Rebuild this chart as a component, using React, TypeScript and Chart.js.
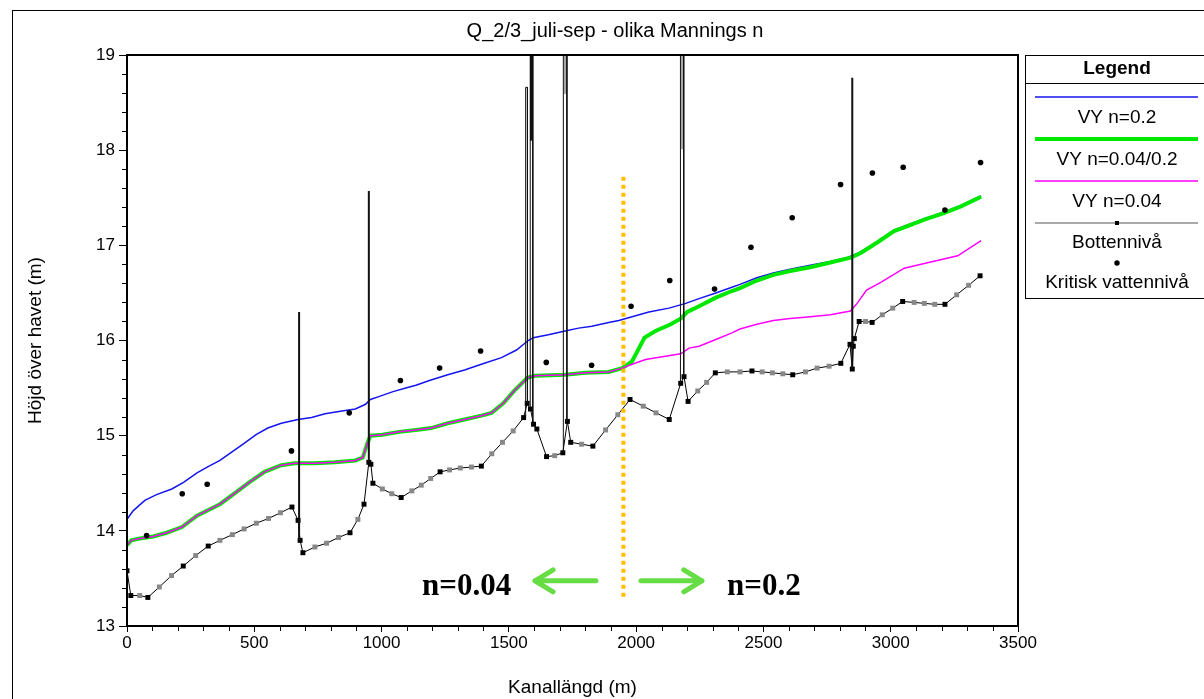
import React, { useEffect, useRef } from "react";
import { Chart, registerables } from "chart.js";

Chart.register(...registerables);

const FONT = "'Liberation Sans', Arial, Helvetica, sans-serif";
const SERIF = "'Liberation Serif', 'Times New Roman', serif";

// ---------- texts ----------
const chartTitle = "Q_2/3_juli-sep - olika Mannings n";
const xTitle = "Kanallängd (m)";
const yTitle = "Höjd över havet (m)";
const legendTitle = "Legend";
const seriesNames = ["VY n=0.2", "VY n=0.04/0.2", "VY n=0.04", "Bottennivå", "Kritisk vattennivå"];
const zoneLabels = ["n=0.04", "n=0.2"];

// ---------- axes ----------
const xRange = [0, 3500];
const yRange = [13, 19];
const xMajorStep = 500;
const xMinorStep = 100;
const yMajorStep = 1;
const yMinorStep = 0.2;

// ---------- VY n=0.2 ----------
const blueDist = [0, 24, 70, 116, 176, 222, 275, 315, 365, 407, 460, 507, 553, 606, 672, 725, 778, 844, 897, 937, 956, 989, 1042, 1095, 1135, 1188, 1260, 1326, 1392, 1471, 1530, 1576, 1596, 1655, 1721, 1774, 1826, 1892, 1932, 1984, 2050, 2129, 2195, 2247, 2313, 2376, 2408, 2474, 2539, 2605, 2684, 2763, 2829, 2882, 2947, 3013, 3053, 3132, 3211, 3276, 3355];
const blueLevel = [14.12, 14.21, 14.32, 14.38, 14.44, 14.51, 14.61, 14.67, 14.74, 14.82, 14.92, 15.01, 15.08, 15.13, 15.17, 15.19, 15.23, 15.26, 15.28, 15.33, 15.38, 15.41, 15.46, 15.50, 15.53, 15.58, 15.64, 15.69, 15.75, 15.82, 15.90, 16.00, 16.03, 16.06, 16.10, 16.13, 16.15, 16.19, 16.21, 16.25, 16.30, 16.34, 16.39, 16.44, 16.50, 16.56, 16.59, 16.66, 16.71, 16.75, 16.79, 16.83, 16.87, 16.93, 17.04, 17.16, 17.20, 17.28, 17.35, 17.42, 17.52];

// ---------- VY n=0.04/0.2 ----------
const mixedDist = [0, 17, 50, 103, 156, 216, 275, 365, 421, 480, 540, 606, 659, 738, 817, 897, 926, 943, 956, 1003, 1069, 1135, 1195, 1260, 1326, 1392, 1432, 1478, 1524, 1574, 1603, 1721, 1800, 1892, 1945, 1984, 2033, 2076, 2136, 2175, 2201, 2247, 2313, 2376, 2408, 2474, 2539, 2605, 2684, 2763, 2842, 2882, 2947, 3013, 3053, 3132, 3211, 3276, 3355];
const mixedLevel = [13.85, 13.90, 13.92, 13.94, 13.98, 14.04, 14.16, 14.28, 14.39, 14.51, 14.62, 14.69, 14.71, 14.71, 14.72, 14.74, 14.77, 14.91, 15.00, 15.01, 15.04, 15.06, 15.08, 15.13, 15.17, 15.21, 15.24, 15.34, 15.48, 15.61, 15.63, 15.64, 15.66, 15.67, 15.71, 15.78, 16.03, 16.10, 16.17, 16.23, 16.30, 16.36, 16.45, 16.52, 16.55, 16.63, 16.69, 16.73, 16.77, 16.82, 16.87, 16.92, 17.03, 17.15, 17.19, 17.27, 17.34, 17.41, 17.51];

// ---------- VY n=0.04 ----------
const lowDist = [0, 17, 50, 103, 156, 216, 275, 365, 421, 480, 540, 606, 659, 738, 817, 897, 926, 943, 956, 1003, 1069, 1135, 1195, 1260, 1326, 1392, 1432, 1478, 1524, 1574, 1603, 1721, 1800, 1892, 1945, 1984, 2037, 2103, 2175, 2208, 2247, 2313, 2376, 2408, 2474, 2539, 2605, 2684, 2763, 2842, 2868, 2905, 2961, 3053, 3132, 3263, 3355];
const lowLevel = [13.85, 13.90, 13.92, 13.94, 13.98, 14.04, 14.16, 14.28, 14.39, 14.51, 14.62, 14.69, 14.71, 14.71, 14.72, 14.74, 14.77, 14.91, 15.00, 15.01, 15.04, 15.06, 15.08, 15.13, 15.17, 15.21, 15.24, 15.34, 15.48, 15.61, 15.63, 15.64, 15.66, 15.67, 15.71, 15.75, 15.80, 15.83, 15.86, 15.92, 15.94, 16.01, 16.08, 16.12, 16.17, 16.21, 16.23, 16.25, 16.27, 16.31, 16.39, 16.53, 16.61, 16.76, 16.81, 16.89, 17.05];

// ---------- Bottennivå ----------
const bedDist = [0, 15, 50, 82, 127, 175, 221, 270, 319, 365, 414, 460, 508, 556, 603, 648, 672, 680, 691, 738, 784, 831, 876, 907, 931, 950, 958, 966, 1003, 1040, 1077, 1119, 1156, 1193, 1230, 1267, 1309, 1353, 1392, 1433, 1475, 1517, 1558, 1572, 1585, 1597, 1610, 1648, 1680, 1712, 1730, 1743, 1786, 1830, 1880, 1928, 1976, 2028, 2078, 2130, 2175, 2188, 2204, 2242, 2277, 2311, 2358, 2408, 2455, 2495, 2535, 2576, 2615, 2665, 2711, 2758, 2804, 2840, 2849, 2853, 2857, 2876, 2901, 2927, 2967, 3008, 3047, 3092, 3132, 3173, 3213, 3259, 3306, 3351];
const bedLevel = [13.58, 13.32, 13.32, 13.30, 13.41, 13.53, 13.63, 13.74, 13.84, 13.90, 13.96, 14.02, 14.08, 14.13, 14.19, 14.25, 14.11, 13.90, 13.77, 13.83, 13.87, 13.93, 13.98, 14.12, 14.28, 14.72, 14.70, 14.50, 14.44, 14.39, 14.35, 14.42, 14.48, 14.55, 14.62, 14.64, 14.66, 14.67, 14.68, 14.81, 14.93, 15.05, 15.19, 15.34, 15.28, 15.12, 15.07, 14.78, 14.79, 14.82, 15.15, 14.93, 14.91, 14.89, 15.06, 15.22, 15.38, 15.31, 15.24, 15.17, 15.55, 15.62, 15.36, 15.47, 15.56, 15.66, 15.67, 15.67, 15.68, 15.67, 15.66, 15.65, 15.64, 15.67, 15.71, 15.73, 15.76, 15.96, 15.70, 15.94, 16.02, 16.20, 16.20, 16.19, 16.27, 16.34, 16.41, 16.40, 16.39, 16.38, 16.38, 16.48, 16.58, 16.68];
// 1 = measured cross-section, 0 = interpolated cross-section
const bedMeasured = [1, 1, 0, 1, 0, 0, 1, 0, 1, 0, 0, 0, 0, 0, 0, 1, 1, 1, 1, 0, 0, 0, 1, 0, 1, 1, 1, 1, 0, 0, 1, 0, 0, 0, 1, 0, 0, 0, 1, 0, 0, 0, 1, 1, 1, 1, 1, 1, 0, 1, 1, 1, 0, 1, 0, 0, 1, 0, 0, 1, 1, 1, 1, 0, 0, 1, 0, 0, 1, 0, 0, 0, 1, 0, 0, 0, 1, 1, 1, 1, 1, 1, 0, 1, 0, 0, 1, 0, 0, 0, 1, 0, 0, 1];

// ---------- Kritisk vattennivå ----------
const critDist = [77, 217, 315, 646, 873, 1074, 1228, 1389, 1647, 1825, 1980, 2132, 2308, 2451, 2613, 2803, 2928, 3049, 3213, 3353];
const critLevel = [13.95, 14.39, 14.49, 14.84, 15.24, 15.58, 15.71, 15.89, 15.77, 15.74, 16.36, 16.63, 16.54, 16.98, 17.29, 17.64, 17.76, 17.82, 17.37, 17.87];

// ---------- structures (vertical lines) ----------
const poleDist = [676, 950, 2849];
const poleBase = [13.90, 14.72, 15.70];
const poleTop = [16.30, 17.57, 18.76];

const pierLeft = [1566, 1584, 1714, 2174];
const pierRight = [1573, 1594, 1728, 2187];
const pierLeftBase = [15.20, 15.28, 14.82, 15.55];
const pierRightBase = [15.34, 15.12, 15.15, 15.62];
const pierTop = [18.66, 19, 19, 19];

const darkCapDist = [1589];
const darkCapFrom = [18.10];
const greyCapDist = [1721, 2180.5];
const greyCapFrom = [18.59, 18.01];

// ---------- annotations ----------
const zoneBoundary = 1950;
const zoneBoundaryRange = [13.28, 17.72];
const arrowLevel = 13.475;
const arrowLeft = [1842, 1603];
const arrowRight = [2019, 2258];
const zoneLabelDist = [1334, 2502];
const zoneLabelBase = 13.33;

const pts = (xs: number[], ys: number[]) => xs.map((x, i) => ({ x, y: ys[i] }));

function poleData() {
  const out: any[] = [];
  poleDist.forEach((x, i) => {
    out.push({ x, y: poleBase[i] }, { x, y: poleTop[i] }, { x, y: null });
  });
  return out;
}
function pierData() {
  const out: any[] = [];
  pierLeft.forEach((xl, i) => {
    const xr = pierRight[i];
    out.push(
      { x: xl, y: pierLeftBase[i] },
      { x: xl, y: pierTop[i] },
      { x: xr, y: pierTop[i] },
      { x: xr, y: pierRightBase[i] },
      { x: xr, y: null }
    );
  });
  return out;
}
function capData(xs: number[], from: number[]) {
  const out: any[] = [];
  xs.forEach((x, i) => {
    out.push({ x, y: from[i] }, { x, y: yRange[1] }, { x, y: null });
  });
  return out;
}

const BLUE = "#1414ee";
const GREEN = "#00e800";
const MAGENTA = "#ff00ff";

const decor = {
  id: "decor",
  beforeDraw(chart: any) {
    const { ctx, width, height } = chart;
    ctx.save();
    ctx.fillStyle = "#fff";
    ctx.fillRect(0, 0, width, height);
    ctx.strokeStyle = "#000";
    ctx.lineWidth = 1;
    ctx.strokeRect(12.5, 10.5, width + 20, height + 20);
    ctx.restore();
  },
  afterDatasetsDraw(chart: any) {
    const { ctx } = chart;
    const xs = chart.scales.x;
    const ys = chart.scales.y;
    ctx.save();
    // zone boundary
    const bx = xs.getPixelForValue(zoneBoundary);
    ctx.strokeStyle = "#ffbf00";
    ctx.lineWidth = 4;
    ctx.setLineDash([4, 4]);
    ctx.beginPath();
    ctx.moveTo(bx, ys.getPixelForValue(zoneBoundaryRange[1]));
    ctx.lineTo(bx, ys.getPixelForValue(zoneBoundaryRange[0]));
    ctx.stroke();
    ctx.setLineDash([]);
    // arrows
    const ay = ys.getPixelForValue(arrowLevel);
    const drawArrow = (from: number, to: number) => {
      const x0 = xs.getPixelForValue(from);
      const x1 = xs.getPixelForValue(to);
      const dir = x1 > x0 ? 1 : -1;
      ctx.strokeStyle = "#66dd44";
      ctx.lineWidth = 5;
      ctx.lineCap = "round";
      ctx.lineJoin = "round";
      ctx.beginPath();
      ctx.moveTo(x0, ay);
      ctx.lineTo(x1, ay);
      ctx.stroke();
      ctx.beginPath();
      ctx.moveTo(x1 - dir * 18, ay - 11);
      ctx.lineTo(x1, ay);
      ctx.lineTo(x1 - dir * 18, ay + 11);
      ctx.stroke();
    };
    drawArrow(arrowLeft[0], arrowLeft[1]);
    drawArrow(arrowRight[0], arrowRight[1]);
    // zone labels
    ctx.fillStyle = "#000";
    ctx.font = `bold 31px ${SERIF}`;
    ctx.textAlign = "center";
    ctx.textBaseline = "alphabetic";
    zoneLabels.forEach((t, i) => {
      ctx.fillText(t, xs.getPixelForValue(zoneLabelDist[i]), ys.getPixelForValue(zoneLabelBase));
    });
    ctx.restore();
  },
  afterDraw(chart: any) {
    const { ctx, chartArea } = chart;
    const { left, right, top, bottom } = chartArea;
    const xs = chart.scales.x;
    const ys = chart.scales.y;
    ctx.save();
    // plot frame
    ctx.strokeStyle = "#000";
    ctx.lineWidth = 2;
    ctx.strokeRect(left, top, right - left, bottom - top);
    // minor ticks
    ctx.lineWidth = 1;
    ctx.beginPath();
    const nx = Math.round((xRange[1] - xRange[0]) / xMinorStep);
    const perX = Math.round(xMajorStep / xMinorStep);
    for (let k = 1; k < nx; k++) {
      if (k % perX === 0) continue;
      const px = Math.round(xs.getPixelForValue(xRange[0] + k * xMinorStep)) + 0.5;
      ctx.moveTo(px, bottom);
      ctx.lineTo(px, bottom + 5);
    }
    const ny = Math.round((yRange[1] - yRange[0]) / yMinorStep);
    const perY = Math.round(yMajorStep / yMinorStep);
    for (let k = 1; k < ny; k++) {
      if (k % perY === 0) continue;
      const py = Math.round(ys.getPixelForValue(yRange[0] + k * yMinorStep)) + 0.5;
      ctx.moveTo(left - 5, py);
      ctx.lineTo(left, py);
    }
    ctx.stroke();
    // title
    ctx.fillStyle = "#000";
    ctx.font = `20px ${FONT}`;
    ctx.textAlign = "center";
    ctx.textBaseline = "middle";
    ctx.fillText(chartTitle, 615, 31);

    // legend
    const L = right + 7;
    const W = 200;
    const cx = L + 92;
    const lx0 = L + 10;
    const lx1 = L + 173;
    ctx.lineWidth = 1;
    ctx.strokeStyle = "#000";
    ctx.strokeRect(L + 0.5, top + 0.5, W, 243);
    ctx.font = `bold 19px ${FONT}`;
    ctx.fillText(legendTitle, cx, top + 14);
    ctx.beginPath();
    ctx.moveTo(L, top + 28.5);
    ctx.lineTo(L + W, top + 28.5);
    ctx.stroke();
    ctx.font = `19px ${FONT}`;
    const sample = (y: number, color: string, w: number) => {
      ctx.strokeStyle = color;
      ctx.lineWidth = w;
      ctx.beginPath();
      ctx.moveTo(lx0, y);
      ctx.lineTo(lx1, y);
      ctx.stroke();
    };
    sample(top + 42, BLUE, 1.5);
    ctx.fillText(seriesNames[0], cx, top + 63);
    sample(top + 84, GREEN, 4);
    ctx.fillText(seriesNames[1], cx, top + 105);
    sample(top + 126, MAGENTA, 1.5);
    ctx.fillText(seriesNames[2], cx, top + 147);
    sample(top + 168, "#555", 1.2);
    ctx.fillStyle = "#000";
    ctx.fillRect(cx - 2, top + 166, 4, 4);
    ctx.fillText(seriesNames[3], cx, top + 188);
    ctx.beginPath();
    ctx.arc(cx, top + 208, 2.7, 0, Math.PI * 2);
    ctx.fill();
    ctx.fillText(seriesNames[4], cx, top + 228);
    ctx.restore();
  },
};

export default function App() {
  const ref = useRef<HTMLCanvasElement>(null);
  useEffect(() => {
    const canvas = ref.current;
    if (!canvas) return;
    const chart = new Chart(canvas, {
      type: "line",
      data: {
        datasets: [
          {
            label: "poles",
            data: poleData(),
            borderColor: "#111",
            borderWidth: 2,
            pointRadius: 0,
            spanGaps: false,
            order: 0,
          },
          {
            label: "piers",
            data: pierData(),
            borderColor: "#111",
            borderWidth: 1,
            pointRadius: 0,
            spanGaps: false,
            order: 0,
          },
          {
            label: "darkcaps",
            data: capData(darkCapDist, darkCapFrom),
            borderColor: "#111",
            borderWidth: 3,
            pointRadius: 0,
            spanGaps: false,
            order: 0,
          },
          {
            label: "greycaps",
            data: capData(greyCapDist, greyCapFrom),
            borderColor: "#a8a8a8",
            borderWidth: 2.5,
            pointRadius: 0,
            spanGaps: false,
            order: 0,
          },
          {
            label: seriesNames[4],
            data: pts(critDist, critLevel),
            showLine: false,
            pointStyle: "circle",
            pointRadius: 2.8,
            pointBackgroundColor: "#000",
            pointBorderWidth: 0,
            order: 0,
          },
          {
            label: seriesNames[3],
            data: pts(bedDist, bedLevel),
            borderColor: "#000",
            borderWidth: 1,
            pointStyle: "rect",
            pointRadius: 3.5,
            pointBackgroundColor: bedMeasured.map((m) => (m ? "#000" : "#888888")),
            pointBorderWidth: 0,
            tension: 0,
            order: 1,
          },
          {
            label: seriesNames[2],
            data: pts(lowDist, lowLevel),
            borderColor: MAGENTA,
            borderWidth: 1.5,
            pointRadius: 0,
            tension: 0,
            order: 2,
          },
          {
            label: seriesNames[1],
            data: pts(mixedDist, mixedLevel),
            borderColor: GREEN,
            borderWidth: 4,
            pointRadius: 0,
            tension: 0,
            order: 3,
          },
          {
            label: seriesNames[0],
            data: pts(blueDist, blueLevel),
            borderColor: BLUE,
            borderWidth: 1.5,
            pointRadius: 0,
            tension: 0,
            order: 4,
          },
        ],
      },
      options: {
        animation: false,
        responsive: false,
        devicePixelRatio: 1,
        events: [],
        layout: { padding: { left: 22, right: 186, top: 55, bottom: 0 } },
        plugins: {
          legend: { display: false },
          tooltip: { enabled: false },
          title: { display: false },
        },
        scales: {
          x: {
            type: "linear",
            min: xRange[0],
            max: xRange[1],
            afterFit: (s: any) => {
              s.height = 73;
            },
            ticks: {
              stepSize: xMajorStep,
              color: "#000",
              font: { family: FONT, size: 17 },
              maxRotation: 0,
              padding: 1,
              callback: (v: any) => String(v),
            },
            grid: { drawOnChartArea: false, drawTicks: true, tickLength: 6, color: "#000" },
            border: { display: true, color: "#000", width: 2 },
            title: {
              display: true,
              text: xTitle,
              color: "#000",
              font: { family: FONT, size: 19 },
              padding: { top: 0, bottom: 0 },
            },
          },
          y: {
            type: "linear",
            min: yRange[0],
            max: yRange[1],
            afterFit: (s: any) => {
              s.width = 105;
            },
            ticks: {
              stepSize: yMajorStep,
              color: "#000",
              font: { family: FONT, size: 17 },
              padding: 4,
              callback: (v: any) => String(v),
            },
            grid: { drawOnChartArea: false, drawTicks: true, tickLength: 8, color: "#000" },
            border: { display: true, color: "#000", width: 2 },
            title: {
              display: true,
              text: yTitle,
              color: "#000",
              font: { family: FONT, size: 19 },
              padding: { top: 2, bottom: 0 },
            },
          },
        },
      } as any,
      plugins: [decor],
    });
    return () => chart.destroy();
  }, []);
  return (
    <div style={{ position: "fixed", left: 0, top: 0, width: 1204, height: 699, background: "#fff" }}>
      <canvas ref={ref} width={1204} height={699} style={{ display: "block", width: 1204, height: 699 }} />
    </div>
  );
}
